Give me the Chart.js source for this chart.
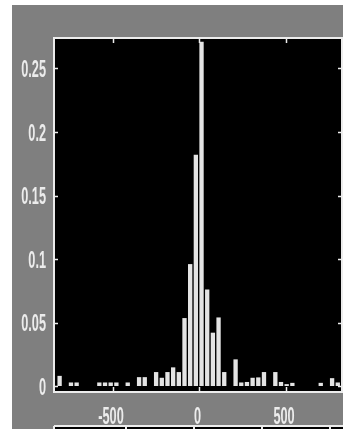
<!DOCTYPE html>
<html>
<head>
  <meta charset="UTF-8">
  <title>Histogram</title>
  <script src="https://cdn.jsdelivr.net/npm/chart.js"></script>
  <style>
    html, body { margin: 0; padding: 0; background: #fff; }
    #wrap { position: absolute; left: 0; top: 0; width: 343px; height: 429px; }
  </style>
</head>
<body>
  <div id="wrap"><canvas id="histChart"></canvas></div>

  <script>
    // bin centres (x) and normalised counts
    const binCenters = [
      -805.6, -772.8, -740, -707.2, -674.4, -641.6, -608.8, -576, -543.2, -510.4,
      -477.6, -444.8, -412, -379.2, -346.4, -313.6, -280.8, -248, -215.2, -182.4,
      -149.6, -116.8, -84, -51.2, -18.4, 14.4, 47.2, 80, 112.8, 145.6,
      178.4, 211.2, 244, 276.8, 309.6, 342.4, 375.2, 408, 440.8, 473.6,
      506.4, 539.2, 572, 604.8, 637.6, 670.4, 703.2, 736, 768.8, 801.6
    ];
    const density = [
      0.008, 0, 0.0028, 0.0028, 0, 0, 0, 0.0028, 0.0028, 0.0028,
      0.0028, 0, 0.0028, 0, 0.007, 0.007, 0, 0.011, 0.0065, 0.011,
      0.0147, 0.011, 0.0535, 0.096, 0.182, 0.271, 0.076, 0.042, 0.054, 0.011,
      0, 0.021, 0.0028, 0.0032, 0.0065, 0.0068, 0.011, 0, 0.011, 0.0032,
      0.0015, 0.0025, 0, 0, 0, 0, 0.0025, 0, 0.0062, 0.0028
    ];
    const xTicks = [-500, 0, 500];
    const xTickLabels = ['-500', '0', '500'];
    const yTicks = [0, 0.05, 0.1, 0.15, 0.2, 0.25];
    const yTickLabels = ['0', '0.05', '0.1', '0.15', '0.2', '0.25'];

    const axisColor = '#ececec';
    const labelFont = 'bold 24px "Liberation Sans", Arial, sans-serif';

    // narrow tall label, like the original screen grab
    function squeezedText(ctx, text, x, y, align) {
      ctx.save();
      ctx.translate(x, y);
      ctx.scale(0.53, 1);
      ctx.textAlign = align;
      ctx.textBaseline = 'alphabetic';
      ctx.fillText(text, 0, 0);
      ctx.restore();
    }

    const framePlugin = {
      id: 'frame',
      beforeDraw(chart) {
        const ctx = chart.ctx;
        const a = chart.chartArea;
        ctx.save();
        ctx.fillStyle = '#ffffff';
        ctx.fillRect(0, 0, chart.width, chart.height);
        ctx.fillStyle = '#7f7f7f';
        ctx.fillRect(12, 5, chart.width - 12, chart.height - 5);
        ctx.fillStyle = '#000000';
        ctx.fillRect(a.left, a.top, a.right - a.left, a.bottom - a.top);
        // top of the next subplot, cut off by the frame
        ctx.fillRect(a.left, 426, a.right - a.left + 2, 4);
        ctx.restore();
      },
      afterDatasetsDraw(chart) {
        const ctx = chart.ctx;
        const a = chart.chartArea;
        const xs = chart.scales.x;
        const ys = chart.scales.y;
        ctx.save();
        ctx.strokeStyle = axisColor;
        ctx.lineWidth = 2;
        ctx.strokeRect(a.left, a.top, a.right - a.left, a.bottom - a.top);

        // inward ticks
        ctx.lineWidth = 1.5;
        ctx.beginPath();
        xTicks.forEach(v => {
          const px = Math.round(xs.getPixelForValue(v)) + 0.5;
          ctx.moveTo(px, a.top); ctx.lineTo(px, a.top + 5);
          ctx.moveTo(px, a.bottom); ctx.lineTo(px, a.bottom - 5);
        });
        yTicks.forEach(v => {
          const py = Math.round(ys.getPixelForValue(v)) + 0.5;
          ctx.moveTo(a.left, py); ctx.lineTo(a.left + 4, py);
          ctx.moveTo(a.right, py); ctx.lineTo(a.right - 4, py);
        });
        ctx.stroke();

        // labels
        ctx.fillStyle = axisColor;
        ctx.font = labelFont;
        yTicks.forEach((v, i) => {
          squeezedText(ctx, yTickLabels[i], a.left - 8, ys.getPixelForValue(v) + 8.6, 'right');
        });
        xTicks.forEach((v, i) => {
          squeezedText(ctx, xTickLabels[i], xs.getPixelForValue(v) - 1.5, a.bottom + 32, 'center');
        });

        // partial axis of the subplot below
        ctx.lineWidth = 2;
        ctx.beginPath();
        ctx.moveTo(a.left, 426); ctx.lineTo(chart.width, 426);
        ctx.moveTo(a.left, 426); ctx.lineTo(a.left, 429);
        [126, 194, 262, 330].forEach(px => {
          ctx.moveTo(px, 426); ctx.lineTo(px, 429);
        });
        ctx.stroke();
        ctx.restore();
      }
    };

    const ctx = document.getElementById('histChart').getContext('2d');
    new Chart(ctx, {
      type: 'bar',
      data: {
        datasets: [{
          data: binCenters.map((x, i) => ({ x: x, y: density[i] })),
          backgroundColor: '#e4e4e4',
          borderWidth: 0,
          categoryPercentage: 1,
          barPercentage: 0.76
        }]
      },
      options: {
        responsive: true,
        maintainAspectRatio: false,
        animation: false,
        layout: {
          padding: { left: 54, right: 1, top: 38, bottom: 37 }
        },
        plugins: {
          legend: { display: false },
          tooltip: { enabled: false }
        },
        scales: {
          x: {
            type: 'linear',
            display: false,
            offset: false,
            min: -838,
            max: 826
          },
          y: {
            display: false,
            min: -0.0047,
            max: 0.274
          }
        }
      },
      plugins: [framePlugin]
    });
  </script>
</body>
</html>
